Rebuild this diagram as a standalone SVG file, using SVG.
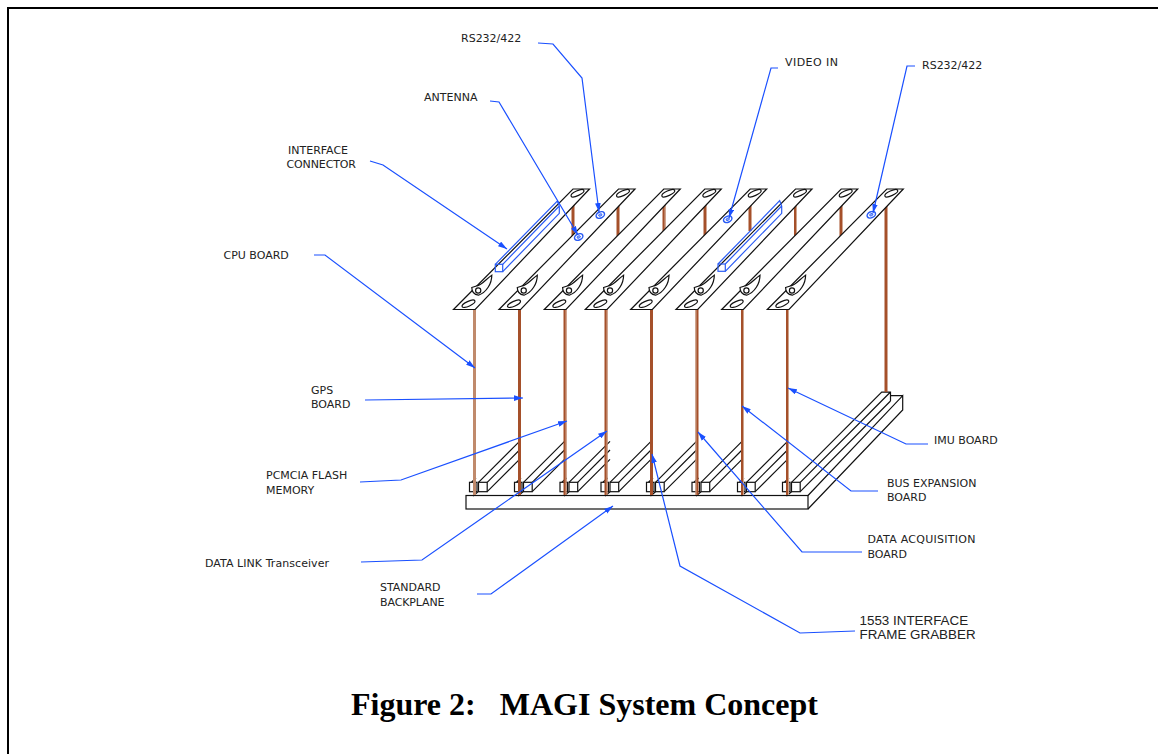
<svg xmlns="http://www.w3.org/2000/svg" width="1158" height="754" viewBox="0 0 1158 754">
<style>
.bk{fill:none;stroke:#111;stroke-width:1.2}
.wh{fill:#fff;stroke:#111;stroke-width:1.2}
.post{fill:none;stroke:#a5502a;stroke-width:3}
.lt{fill:none;stroke:#c08a6c;stroke-width:3}
.soft{fill:none;stroke:#cfa48c;stroke-width:1}
.ldr{fill:none;stroke:#1a50ff;stroke-width:1.2;marker-end:url(#ah)}
.ifc{fill:none;stroke:#2a5cf5;stroke-width:1.2}
.t{font-family:"DejaVu Sans",Verdana,sans-serif;font-size:11px;fill:#222}
.a{font-family:"Liberation Sans",Arial,sans-serif;font-size:13.4px;fill:#222}
.title{font-family:"Liberation Serif","Times New Roman",serif;font-size:32px;font-weight:bold;fill:#000}
</style>
<defs>
<marker id="ah" markerUnits="userSpaceOnUse" markerWidth="10" markerHeight="6" refX="9" refY="3" orient="auto"><path d="M0 0.2L9 3L0 5.8Z" fill="#1a50ff"/></marker>
<g id="plate">
<path class="wh" d="M0 0L21.7 0L136 -120.5L119.5 -120.5Z"/>
<ellipse class="bk" cx="15" cy="-5.7" rx="7" ry="2.4" transform="rotate(-25 15 -5.7)"/>
<ellipse class="bk" cx="124" cy="-116.3" rx="7" ry="2.4" transform="rotate(-25 124 -116.3)"/>
<path class="wh" d="M18.3 -22L23.7 -23.7C29 -25 33 -31 38.3 -34.3C38.3 -26 33 -17 25 -14.3C20 -15 18.3 -18 18.3 -22Z"/>
<circle class="wh" cx="24.7" cy="-19" r="2.6"/>
</g>
<g id="pin"><ellipse cx="0" cy="0" rx="4.4" ry="3" transform="rotate(-25)" fill="none" stroke="#2a5cf5" stroke-width="1.5"/><ellipse cx="0" cy="0" rx="1.8" ry="1.1" transform="rotate(-25)" fill="#2a5cf5" fill-opacity="0.5" stroke="#2a5cf5" stroke-width="0.8"/></g>
</defs>
<rect width="1158" height="754" fill="#fff"/>
<path d="M8 754V8H1158" fill="none" stroke="#000" stroke-width="2"/>

<g id="backplane">
<path class="bk" d="M808 495.5L902.7 395.7V410L808 509M890.5 395.7H902.7"/>
<rect class="wh" x="466" y="495.5" width="342" height="13.5" stroke="#444"/>
<path class="bk" d="M478.5 482.3L519.5 441.3M487.2 482.3L519.5 450M487.2 491.7L519.5 459.4M523.5 482.3L565 440.8M532.2 482.3L565 449.5M532.2 491.7L565 458.9M569 482.3L610 441.3M577.7 482.3L610 450M577.7 491.7L610 459.4M610 482.3L651.5 440.8M618.7 482.3L651.5 449.5M618.7 491.7L651.5 458.9M655.5 482.3L697 440.8M664.2 482.3L697 449.5M664.2 491.7L697 458.9M701 482.3L742.5 440.8M709.7 482.3L742.5 449.5M709.7 491.7L742.5 458.9M746.5 482.3L787.5 441.3M755.2 482.3L787.5 450M755.2 491.7L787.5 459.4M791.5 482.3L881.7 392.1H890.5V401M800.2 482.3L890.5 392M800.2 491.7L890.5 401"/>
<path class="bk" d="M471.5 482.3L476 478M473 496L478 491.7M516.5 482.3L521 478M518 496L523 491.7M562 482.3L566.5 478M564 496L569 491.7M603 482.3L607.5 478M605 496L610 491.7M648.5 482.3L653 478M650.5 496L655.5 491.7M694 482.3L698.5 478M696 496L701 491.7M739.5 482.3L744 478M741.5 496L746.5 491.7M784.5 482.3L789 478M786.5 496L791.5 491.7"/>
<g class="wh">
<rect x="469.5" y="482.3" width="7.5" height="9.4"/><rect x="478.5" y="482.3" width="8.7" height="9.4"/>
<rect x="514.5" y="482.3" width="7.5" height="9.4"/><rect x="523.5" y="482.3" width="8.7" height="9.4"/>
<rect x="560" y="482.3" width="7.5" height="9.4"/><rect x="569" y="482.3" width="8.7" height="9.4"/>
<rect x="601" y="482.3" width="7.5" height="9.4"/><rect x="610" y="482.3" width="8.7" height="9.4"/>
<rect x="646.5" y="482.3" width="7.5" height="9.4"/><rect x="655.5" y="482.3" width="8.7" height="9.4"/>
<rect x="692" y="482.3" width="7.5" height="9.4"/><rect x="701" y="482.3" width="8.7" height="9.4"/>
<rect x="737.5" y="482.3" width="7.5" height="9.4"/><rect x="746.5" y="482.3" width="8.7" height="9.4"/>
<rect x="782.5" y="482.3" width="7.5" height="9.4"/><rect x="791.5" y="482.3" width="8.7" height="9.4"/>
</g>
</g>

<g id="board-cpu"><path class="lt" d="M474.5 309V495"/><path class="post" d="M573 205V236"/><use href="#plate" x="453.5" y="309.5"/></g>
<g id="board-gps"><path class="post" d="M519.5 309V495M618 205V236"/><use href="#plate" x="499" y="309.5"/></g>
<g id="board-pcmcia"><path class="post" d="M565 309V495M664 205V236"/><path class="soft" d="M566 309V495M665 205V236"/><use href="#plate" x="544.3" y="309.5"/></g>
<g id="board-datalink"><path class="post" d="M606 309V495M705 205V236"/><path class="soft" d="M607 309V495"/><use href="#plate" x="585.3" y="309.5"/></g>
<g id="board-1553"><path class="post" d="M651.5 309V495M750 205V231"/><use href="#plate" x="630.7" y="309.5"/></g>
<g id="board-acq"><path class="post" d="M697 309V495M795.5 205V236"/><path class="soft" d="M696 309V495M796.5 205V236"/><use href="#plate" x="676" y="309.5"/></g>
<g id="board-bus"><path class="post" d="M742.5 309V495M841 205V236"/><path class="soft" d="M743.5 309V495"/><use href="#plate" x="721.7" y="309.5"/></g>
<g id="board-imu"><path class="post" d="M787.5 309V495M886 205V392"/><path class="soft" d="M788.5 309V495"/><use href="#plate" x="767.3" y="309.5"/></g>

<g id="interface-connector-1" class="ifc"><rect x="495.3" y="264.3" width="7.4" height="7.4"/><path d="M495.3 264.3L557.3 201L559.3 206V213.3L502.7 271.7M502.7 264.3L559.3 206"/></g>
<g id="interface-connector-2" class="ifc"><rect x="718" y="264" width="7.3" height="7.3"/><path d="M718 264L779.7 200.7L781.7 206V213.3L725.3 271.3M725.3 264L781.7 206"/></g>
<g id="pins"><use href="#pin" x="600.3" y="215"/><use href="#pin" x="578.7" y="237"/><use href="#pin" x="727.7" y="219.3"/><use href="#pin" x="871.3" y="214.7"/></g>

<g id="connectors">
<polyline class="ldr" points="538,43 553,44 582,78 599,212"/>
<polyline class="ldr" points="490,101 499,102 578,235"/>
<polyline class="ldr" points="370,161 383,165 507,249"/>
<polyline class="ldr" points="314,255 325,255 475,368"/>
<polyline class="ldr" points="365,400 523,398"/>
<polyline class="ldr" points="360,482 401,480 567,421"/>
<polyline class="ldr" points="361,562 422,560 607,431"/>
<polyline class="ldr" points="477,594 491,594 613,506"/>
<polyline class="ldr" points="855,631 800,633 680,566 652,454"/>
<polyline class="ldr" points="862,552 802,552 698,432"/>
<polyline class="ldr" points="878,491 851,491 742,406"/>
<polyline class="ldr" points="928,444 906,444 788,388"/>
<polyline class="ldr" points="778,68 771,68 729,218"/>
<polyline class="ldr" points="915,66 907,66 873,213"/>
</g>

<g id="labels">
<text class="t" x="461" y="42">RS232/422</text>
<text class="t" x="424" y="101">ANTENNA</text>
<text class="t" x="288" y="154">INTERFACE</text>
<text class="t" x="286.5" y="168" textLength="69.5">CONNECTOR</text>
<text class="t" x="785" y="66" textLength="53">VIDEO IN</text>
<text class="t" x="922" y="69">RS232/422</text>
<text class="t" x="223.5" y="259">CPU BOARD</text>
<text class="t" x="311" y="394">GPS</text>
<text class="t" x="311" y="408">BOARD</text>
<text class="t" x="266" y="479">PCMCIA FLASH</text>
<text class="t" x="266" y="494">MEMORY</text>
<text class="t" x="205" y="567" textLength="124">DATA LINK Transceiver</text>
<text class="t" x="380" y="591">STANDARD</text>
<text class="t" x="380" y="606" textLength="64.5">BACKPLANE</text>
<text class="t" x="934" y="444">IMU BOARD</text>
<text class="t" x="887" y="487">BUS EXPANSION</text>
<text class="t" x="887" y="501">BOARD</text>
<text class="t" x="867.5" y="543" textLength="108">DATA ACQUISITION</text>
<text class="t" x="867.5" y="558">BOARD</text>
<text class="a" x="859.5" y="625">1553 INTERFACE</text>
<text class="a" x="859.5" y="639">FRAME GRABBER</text>
<text class="title" x="351" y="715" xml:space="preserve">Figure 2:   MAGI System Concept</text>
</g>
</svg>
